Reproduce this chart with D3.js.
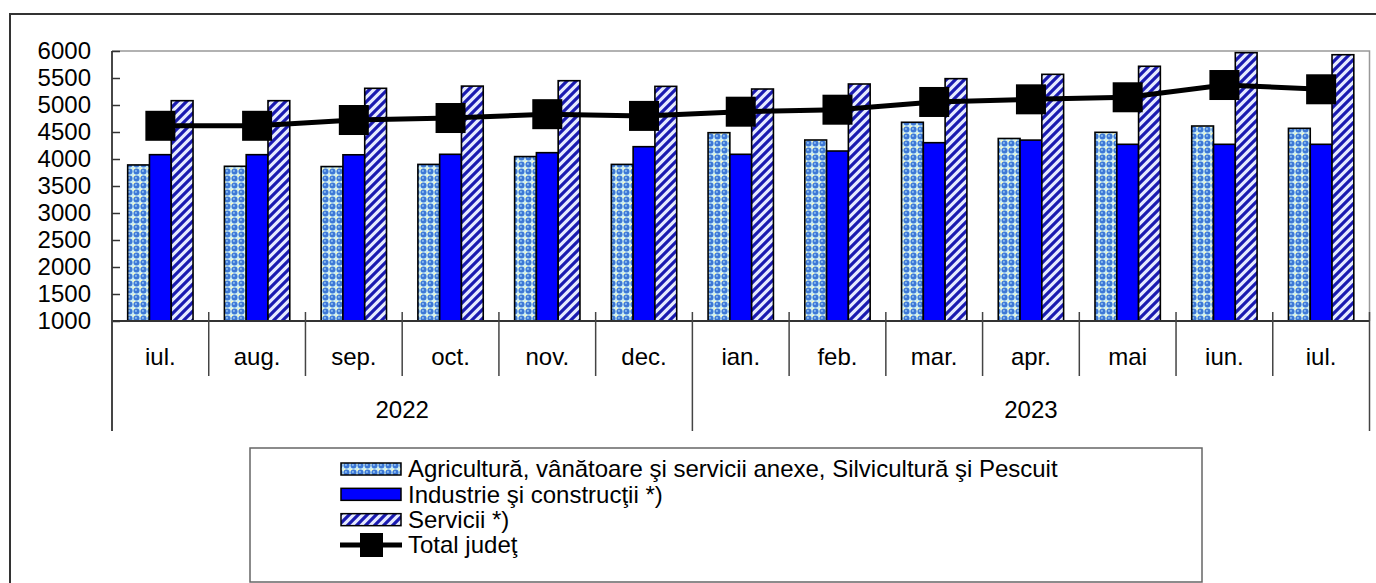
<!DOCTYPE html>
<html>
<head>
<meta charset="utf-8">
<script src="https://cdn.jsdelivr.net/npm/d3@7"></script>
<style>
  html, body { margin: 0; padding: 0; background: #fff; }
  svg { display: block; font-family: "Liberation Sans", Arial, sans-serif; }
  .axis text { font-size: 24px; fill: #000; }
  .lbl { font-size: 24px; fill: #000; }
</style>
</head>
<body>
<svg id="chart"></svg>
<script>
// ─── Data ─────────────────────────────────────────────────────────────────────
const months   = ["iul.", "aug.", "sep.", "oct.", "nov.", "dec.", "ian.", "feb.", "mar.", "apr.", "mai", "iun.", "iul."];
const monthYear = ["2022", "2022", "2022", "2022", "2022", "2022", "2023", "2023", "2023", "2023", "2023", "2023", "2023"];
const agriculture = [3890, 3865, 3860, 3900, 4045, 3900, 4487, 4352, 4680, 4380, 4494, 4611, 4568];
const industry    = [4080, 4080, 4078, 4087, 4117, 4228, 4087, 4148, 4302, 4350, 4272, 4272, 4272];
const services    = [5080, 5080, 5309, 5350, 5450, 5345, 5296, 5389, 5488, 5568, 5717, 5969, 5931];
const total       = [4615, 4615, 4722, 4759, 4830, 4798, 4876, 4913, 5056, 5105, 5143, 5370, 5291];
const yTicks = [1000, 1500, 2000, 2500, 3000, 3500, 4000, 4500, 5000, 5500, 6000];
const seriesNames = [
  "Agricultură, vânătoare şi servicii anexe, Silvicultură şi Pescuit",
  "Industrie şi construcţii *)",
  "Servicii *)",
  "Total judeţ"
];

// ─── Layout ───────────────────────────────────────────────────────────────────
const W = 1376, H = 583;
const plot = { left: 112, right: 1369.5, top: 51, bottom: 321 };
const monthSepBottom = 376, yearSepBottom = 431;

const svg = d3.select("#chart").attr("width", W).attr("height", H);
const defs = svg.append("defs");

// Agriculture: bubbly checker pattern
const pA = defs.append("pattern").attr("id", "pat-agri")
  .attr("patternUnits", "userSpaceOnUse").attr("width", 7).attr("height", 7);
pA.append("rect").attr("width", 7).attr("height", 7).attr("fill", "#cdeef2");
pA.append("rect").attr("x", 0).attr("y", 0).attr("width", 2).attr("height", 2).attr("fill", "#f6f8c4");
pA.append("circle").attr("cx", 3.5).attr("cy", 3.5).attr("r", 3).attr("fill", "#3d78d6");
pA.append("circle").attr("cx", 2.9).attr("cy", 2.9).attr("r", 1.1).attr("fill", "#86b8ee");

// Services: diagonal stripes
const pS = defs.append("pattern").attr("id", "pat-serv")
  .attr("patternUnits", "userSpaceOnUse").attr("width", 9).attr("height", 9);
pS.append("rect").attr("width", 9).attr("height", 9).attr("fill", "#e6ebff");
pS.append("path").attr("d", "M-2,2 L2,-2 M0,9 L9,0 M7,11 L11,7")
  .attr("stroke", "#1a1ab0").attr("stroke-width", 3.2);

const fills = ["url(#pat-agri)", "#0000ff", "url(#pat-serv)"];
const barSeries = [agriculture, industry, services];

// Outer frame
svg.append("rect").attr("x", 10).attr("y", 14).attr("width", W + 20).attr("height", H + 20)
  .attr("fill", "none").attr("stroke", "#333").attr("stroke-width", 2);

// ─── Scales ───────────────────────────────────────────────────────────────────
const x = d3.scaleBand().domain(d3.range(months.length)).range([plot.left, plot.right]);
const xInner = d3.scaleBand().domain([0, 1, 2]).range([0, x.bandwidth()]).paddingOuter(0.72);
const y = d3.scaleLinear().domain([1000, 6000]).range([plot.bottom, plot.top]);

// Plot border (gray top and right)
svg.append("path")
  .attr("d", `M${plot.left},${plot.top} H${plot.right} V${plot.bottom}`)
  .attr("fill", "none").attr("stroke", "#999").attr("stroke-width", 1.5);

// ─── Bars ─────────────────────────────────────────────────────────────────────
barSeries.forEach((vals, s) => {
  svg.append("g").selectAll("rect")
    .data(vals)
    .join("rect")
    .attr("x", (d, i) => x(i) + xInner(s))
    .attr("y", d => y(d))
    .attr("width", xInner.bandwidth())
    .attr("height", d => y(1000) - y(d))
    .attr("fill", fills[s])
    .attr("stroke", "#000")
    .attr("stroke-width", 1.6);
});

// ─── Axes ─────────────────────────────────────────────────────────────────────
const yAxis = svg.append("g").attr("class", "axis")
  .attr("transform", `translate(${plot.left},0)`)
  .call(d3.axisLeft(y).tickValues(yTicks).tickFormat(d3.format("d")).tickSize(9).tickPadding(12));
yAxis.select(".domain").remove();
yAxis.selectAll(".tick line").attr("x2", 8).attr("stroke", "#333").attr("stroke-width", 1.5);

// left axis line, extended down through the category levels
svg.append("line").attr("x1", plot.left).attr("x2", plot.left)
  .attr("y1", plot.top).attr("y2", yearSepBottom)
  .attr("stroke", "#333").attr("stroke-width", 1.8);

// x axis line
svg.append("line").attr("x1", plot.left).attr("x2", plot.right)
  .attr("y1", plot.bottom).attr("y2", plot.bottom)
  .attr("stroke", "#333").attr("stroke-width", 1.8);

// month boundaries
const yearStarts = d3.range(months.length).filter(i => i === 0 || monthYear[i] !== monthYear[i - 1]);
const bounds = d3.range(months.length + 1);
svg.append("g").selectAll("line")
  .data(bounds)
  .join("line")
  .attr("x1", i => i < months.length ? x(i) : plot.right)
  .attr("x2", i => i < months.length ? x(i) : plot.right)
  .attr("y1", plot.bottom - 9)
  .attr("y2", i => (yearStarts.includes(i) || i === months.length) ? yearSepBottom : monthSepBottom)
  .attr("stroke", "#444").attr("stroke-width", 1.5);

// month labels
svg.append("g").selectAll("text")
  .data(months)
  .join("text")
  .attr("class", "lbl")
  .attr("x", (d, i) => x(i) + x.bandwidth() / 2)
  .attr("y", 357)
  .attr("dy", "0.35em")
  .attr("text-anchor", "middle")
  .text(d => d);

// year labels
const yearGroups = d3.groups(d3.range(months.length), i => monthYear[i]);
svg.append("g").selectAll("text")
  .data(yearGroups)
  .join("text")
  .attr("class", "lbl")
  .attr("x", ([, idx]) => (x(idx[0]) + x(idx[idx.length - 1]) + x.bandwidth()) / 2)
  .attr("y", 410)
  .attr("dy", "0.35em")
  .attr("text-anchor", "middle")
  .text(([yr]) => yr);

// ─── Total line ───────────────────────────────────────────────────────────────
const line = d3.line().x((d, i) => x(i) + x.bandwidth() / 2).y(d => y(d));
svg.append("path").datum(total)
  .attr("d", line)
  .attr("fill", "none").attr("stroke", "#000").attr("stroke-width", 5);
const mk = 30;
svg.append("g").selectAll("rect")
  .data(total)
  .join("rect")
  .attr("x", (d, i) => x(i) + x.bandwidth() / 2 - mk / 2)
  .attr("y", d => y(d) - mk / 2)
  .attr("width", mk).attr("height", mk)
  .attr("fill", "#000");

// ─── Legend ───────────────────────────────────────────────────────────────────
const lg = svg.append("g");
lg.append("rect").attr("x", 250).attr("y", 448).attr("width", 952).attr("height", 134)
  .attr("fill", "#fff").attr("stroke", "#666").attr("stroke-width", 1.5);
const rowY = d3.scalePoint().domain(d3.range(4)).range([469, 545]);
seriesNames.forEach((name, i) => {
  const cy = rowY(i);
  if (i < 3) {
    lg.append("rect").attr("x", 341).attr("y", cy - 6).attr("width", 60).attr("height", 12)
      .attr("fill", fills[i]).attr("stroke", "#000").attr("stroke-width", 1.5);
  } else {
    lg.append("line").attr("x1", 340).attr("x2", 402).attr("y1", cy).attr("y2", cy)
      .attr("stroke", "#000").attr("stroke-width", 5);
    lg.append("rect").attr("x", 360).attr("y", cy - 12).attr("width", 23).attr("height", 24)
      .attr("fill", "#000");
  }
  lg.append("text").attr("class", "lbl").attr("x", 408).attr("y", cy).attr("dy", "0.35em")
    .text(name);
});
</script>
</body>
</html>
